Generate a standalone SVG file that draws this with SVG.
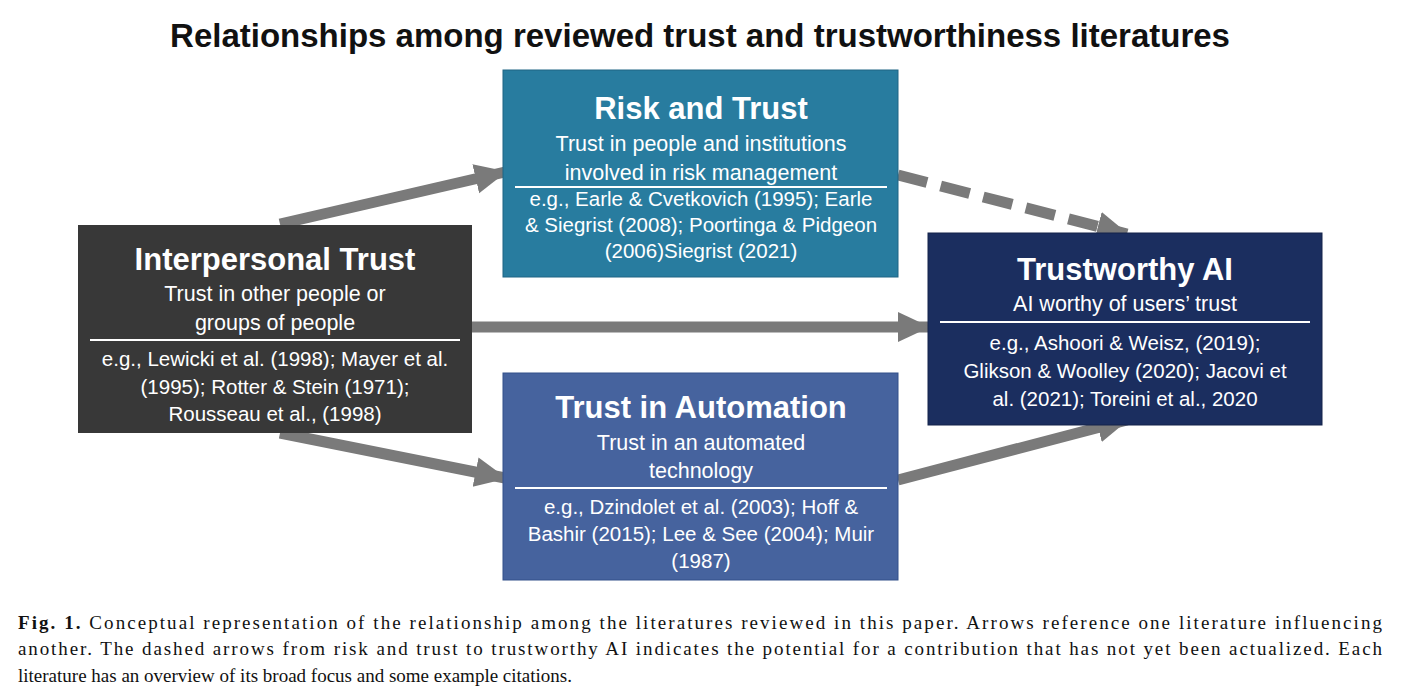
<svg xmlns="http://www.w3.org/2000/svg" width="1414" height="700" viewBox="0 0 1414 700">
<defs>
<marker id="ah" markerUnits="userSpaceOnUse" markerWidth="34" markerHeight="34" refX="30" refY="15" orient="auto"><path d="M0,0 L32,15 L0,30 z" fill="#7a7a7a"/></marker>
<style>
.t{font-family:"Liberation Sans",Arial,sans-serif;fill:#fff;text-anchor:middle}
.h{font-weight:bold;font-size:31px}
.s{font-size:21.5px}
.c{font-size:20.5px}
.cap{font-family:"Liberation Serif","Times New Roman",serif;font-size:19px;fill:#111}
line.a{stroke:#7a7a7a;stroke-width:11;marker-end:url(#ah)}
</style>
</defs>
<rect width="1414" height="700" fill="#fff"/>
<text x="700" y="47" font-family="Liberation Sans,Arial,sans-serif" font-weight="bold" font-size="33" text-anchor="middle" fill="#111">Relationships among reviewed trust and trustworthiness literatures</text>
<g id="connectors">
<line class="a" x1="280" y1="224" x2="505" y2="172"/>
<line class="a" x1="472" y1="327" x2="928" y2="327"/>
<line class="a" x1="280" y1="433" x2="505" y2="478"/>
<line class="a" x1="898" y1="175" x2="1127" y2="234" stroke-dasharray="30,14"/>
<line class="a" x1="898" y1="480" x2="1127" y2="420"/>
</g>
<g id="interpersonal">
<rect x="78" y="225" width="394" height="208" fill="#383838"/>
<text class="t h" x="275" y="270">Interpersonal Trust</text>
<text class="t s" x="275" y="301">Trust in other people or</text>
<text class="t s" x="275" y="330">groups of people</text>
<line x1="90" y1="340" x2="460" y2="340" stroke="#fff" stroke-width="2"/>
<text class="t c" x="275" y="366">e.g., Lewicki et al. (1998); Mayer et al.</text>
<text class="t c" x="275" y="394">(1995); Rotter &amp; Stein (1971);</text>
<text class="t c" x="275" y="421">Rousseau et al., (1998)</text>
</g>
<g id="risk">
<rect x="503" y="70" width="395" height="207" fill="#287c9f" stroke="#1f6584"/>
<text class="t h" x="701" y="119">Risk and Trust</text>
<text class="t s" x="701" y="151">Trust in people and institutions</text>
<text class="t s" x="701" y="180">involved in risk management</text>
<line x1="515" y1="187" x2="887" y2="187" stroke="#fff" stroke-width="2"/>
<text class="t c" x="701" y="206">e.g., Earle &amp; Cvetkovich (1995); Earle</text>
<text class="t c" x="701" y="232">&amp; Siegrist (2008); Poortinga &amp; Pidgeon</text>
<text class="t c" x="701" y="258">(2006)Siegrist (2021)</text>
</g>
<g id="automation">
<rect x="503" y="373" width="395" height="207" fill="#46639e" stroke="#33508a"/>
<text class="t h" x="701" y="418">Trust in Automation</text>
<text class="t s" x="701" y="450">Trust in an automated</text>
<text class="t s" x="701" y="478">technology</text>
<line x1="515" y1="488" x2="887" y2="488" stroke="#fff" stroke-width="2"/>
<text class="t c" x="701" y="514">e.g., Dzindolet et al. (2003); Hoff &amp;</text>
<text class="t c" x="701" y="541">Bashir (2015); Lee &amp; See (2004); Muir</text>
<text class="t c" x="701" y="568">(1987)</text>
</g>
<g id="trustworthyai">
<rect x="928" y="233" width="394" height="192" fill="#1b2e5f" stroke="#14234a"/>
<text class="t h" x="1125" y="280">Trustworthy AI</text>
<text class="t s" x="1125" y="311">AI worthy of users’ trust</text>
<line x1="940" y1="322" x2="1310" y2="322" stroke="#fff" stroke-width="2"/>
<text class="t c" x="1125" y="350">e.g., Ashoori &amp; Weisz, (2019);</text>
<text class="t c" x="1125" y="378">Glikson &amp; Woolley (2020); Jacovi et</text>
<text class="t c" x="1125" y="406">al. (2021); Toreini et al., 2020</text>
</g>
<g id="caption">
<text class="cap" x="18" y="629" textLength="1364" lengthAdjust="spacing"><tspan font-weight="bold">Fig. 1.</tspan> Conceptual representation of the relationship among the literatures reviewed in this paper. Arrows reference one literature influencing</text>
<text class="cap" x="18" y="655" textLength="1364" lengthAdjust="spacing">another. The dashed arrows from risk and trust to trustworthy AI indicates the potential for a contribution that has not yet been actualized. Each</text>
<text class="cap" x="18" y="682">literature has an overview of its broad focus and some example citations.</text>
</g>
</svg>
